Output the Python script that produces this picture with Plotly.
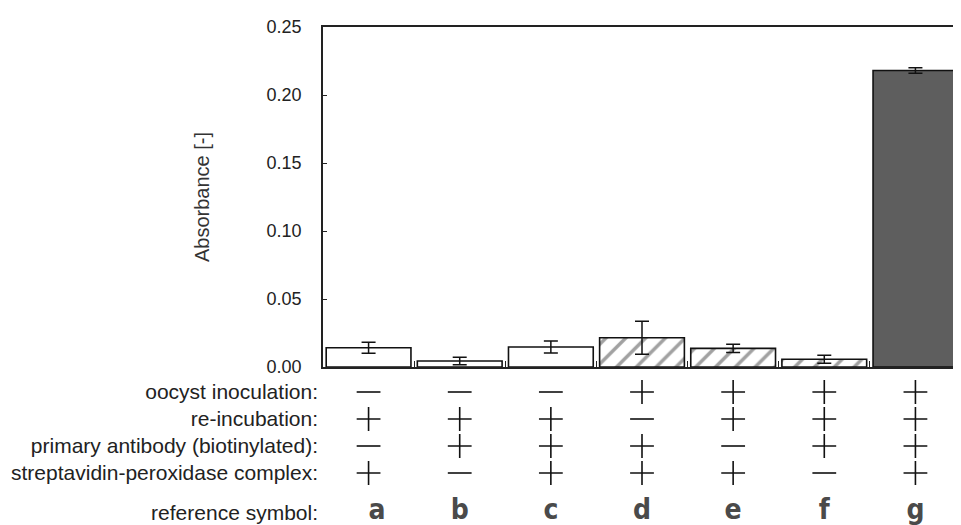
import plotly.graph_objects as go

# ---- data ----
symbols = ["a", "b", "c", "d", "e", "f", "g"]
absorbance = [0.0142, 0.0044, 0.0147, 0.0215, 0.0137, 0.0057, 0.218]
abs_error = [0.0040, 0.0027, 0.0044, 0.0122, 0.0030, 0.0029, 0.0020]
fill_kind = ["open", "open", "open", "hatched", "hatched", "hatched", "solid"]

row_labels = [
    "oocyst inoculation:",
    "re-incubation:",
    "primary antibody (biotinylated):",
    "streptavidin-peroxidase complex:",
]
row_signs = [
    ["-", "-", "-", "+", "+", "+", "+"],
    ["+", "+", "+", "-", "+", "+", "+"],
    ["-", "+", "+", "+", "-", "+", "+"],
    ["+", "-", "+", "+", "+", "-", "+"],
]
symbol_row_label = "reference symbol:"
y_ticks = [0.00, 0.05, 0.10, 0.15, 0.20, 0.25]

# ---- styling (page has an 8px body margin) ----
OFF = 8
W, H = 961 - OFF, 525 - OFF
TOP, LEFT = 27 - OFF, 323 - OFF
MAIN_BOTTOM = 367 - OFF
plot_h = H - TOP
main_dom0 = (H - MAIN_BOTTOM) / plot_h
tab_top_px = 380 - OFF
tab_dom1 = (H - tab_top_px) / plot_h
row_pos = [0, 1, 2, 3, 4.45]
row_step = 27
first_row_px = 392 - OFF
rng_top = -(first_row_px - tab_top_px) / row_step
rng_bot = rng_top + (H - tab_top_px) / row_step

fill_map = {"open": "white", "hatched": "white", "solid": "#5e5e5e"}
shape_map = {"open": "", "hatched": "/", "solid": ""}

fig = go.Figure()
fig.add_trace(go.Bar(
    x=symbols, y=absorbance,
    marker=dict(
        color=[fill_map[k] for k in fill_kind],
        line=dict(color="#111", width=1.6),
        pattern=dict(shape=[shape_map[k] for k in fill_kind], fgcolor="#000",
                     bgcolor="white", size=14, solidity=0.25),
    ),
    error_y=dict(type="data", array=abs_error, color="#111", thickness=1.5, width=7),
    xaxis="x", yaxis="y", showlegend=False, hoverinfo="skip",
))

# table of +/- markers
for r, signs in enumerate(row_signs):
    fig.add_trace(go.Scatter(
        x=symbols, y=[row_pos[r]] * len(symbols), mode="markers",
        marker=dict(symbol=["cross-thin" if s == "+" else "line-ew" for s in signs],
                    size=17, color="#111", line=dict(color="#111", width=1.6)),
        xaxis="x2", yaxis="y2", showlegend=False, cliponaxis=False, hoverinfo="skip",
    ))
fig.add_trace(go.Scatter(
    x=symbols, y=[row_pos[4]] * len(symbols), mode="text", text=symbols,
    textposition=["middle right"] + ["middle center"] * (len(symbols) - 1),
    textfont=dict(family="DejaVu Sans Condensed, Liberation Sans Narrow, sans-serif",
                  size=28, color="#4a4a4a", weight="bold"),
    xaxis="x2", yaxis="y2", showlegend=False, cliponaxis=False, hoverinfo="skip",
))

fig.update_layout(
    width=W, height=H,
    margin=dict(l=LEFT, r=0, t=TOP, b=0, autoexpand=False),
    paper_bgcolor="white", plot_bgcolor="white",
    bargap=0.07,
    font=dict(family="Liberation Sans, Arial, sans-serif", color="#222"),
    xaxis=dict(domain=[0, 1], anchor="y", categoryorder="array", categoryarray=symbols,
               showticklabels=False, showline=True, linecolor="#222", linewidth=1.5,
               mirror=True, ticks="inside", tickson="boundaries", ticklen=6,
               tickcolor="#222", showgrid=False, zeroline=False, automargin=False,
               range=[-0.5, 6.5]),
    yaxis=dict(domain=[main_dom0, 1], anchor="x", range=[0, 0.25], tickvals=y_ticks,
               tickformat=".2f", ticks="inside", ticklen=4, tickcolor="#222",
               showline=True, linecolor="#222", linewidth=1.5, showgrid=False,
               zeroline=False, tickfont=dict(size=18, color="#222"),
               ticklabelstandoff=16, automargin=False,
               title=dict(text="Absorbance [-]", font=dict(size=20, color="#333"),
                          standoff=52)),
    xaxis2=dict(domain=[0, 1], anchor="y2", matches="x", categoryorder="array",
                categoryarray=symbols, visible=False, range=[-0.5, 6.5],
                automargin=False),
    yaxis2=dict(domain=[0, tab_dom1], anchor="x2", range=[rng_bot, rng_top],
                tickvals=row_pos, ticktext=row_labels + [symbol_row_label],
                showline=False, showgrid=False, zeroline=False, ticks="",
                tickfont=dict(size=21, color="#222"), ticklabelstandoff=4,
                automargin=False),
)

fig.write_html("out.html")
